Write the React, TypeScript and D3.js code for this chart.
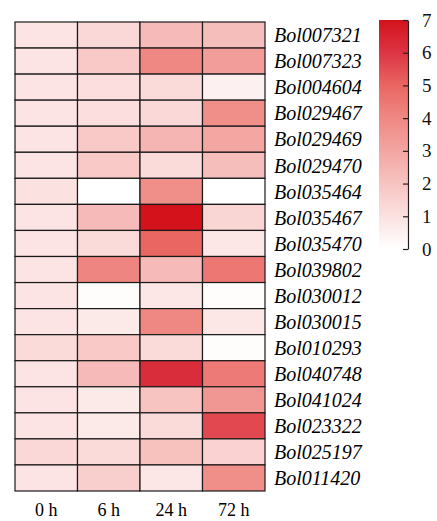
import React, { useEffect, useRef } from 'react'
import * as d3 from 'd3'

// genes (rows, top to bottom)
const genes = [
  'Bol007321', 'Bol007323', 'Bol004604', 'Bol029467', 'Bol029469', 'Bol029470',
  'Bol035464', 'Bol035467', 'Bol035470', 'Bol039802', 'Bol030012', 'Bol030015',
  'Bol010293', 'Bol040748', 'Bol041024', 'Bol023322', 'Bol025197', 'Bol011420',
]

const timepoints = ['0 h', '6 h', '24 h', '72 h']

// expression values per time point (same order as genes)
const v0h = [0.9, 0.9, 0.9, 0.9, 0.9, 0.9, 1.0, 0.9, 0.9, 0.9, 0.9, 0.9, 1.2, 0.9, 0.9, 0.9, 1.3, 0.9]
const v6h = [1.3, 1.8, 1.1, 1.1, 1.8, 1.8, 0.0, 2.3, 1.2, 4.1, 0.1, 0.7, 1.8, 2.3, 0.7, 0.7, 1.2, 1.6]
const v24h = [2.3, 4.0, 1.2, 1.3, 2.5, 1.2, 3.8, 7.0, 5.0, 2.3, 0.8, 4.0, 1.2, 6.2, 2.0, 1.2, 2.1, 0.8]
const v72h = [2.2, 3.3, 0.5, 3.8, 3.0, 2.2, 0.0, 1.4, 0.8, 4.5, 0.1, 0.8, 0.1, 4.4, 3.5, 5.6, 1.5, 3.8]

const legendTicks = [0, 1, 2, 3, 4, 5, 6, 7]

const serif = 'Liberation Serif, Times New Roman, DejaVu Serif, serif'

const App = () => {
  const svgRef = useRef(null)

  useEffect(() => {
    const svg = d3.select(svgRef.current)
    svg.selectAll('*').remove()

    const columns = [v0h, v6h, v24h, v72h]
    const cells = []
    genes.forEach((g, i) => {
      timepoints.forEach((t, j) => {
        cells.push({ gene: g, time: t, value: columns[j][i] })
      })
    })

    const x = d3.scaleBand().domain(timepoints).range([15, 265])
    const y = d3.scaleBand().domain(genes).range([22, 491])

    const color = d3
      .scaleLinear()
      .domain([0, 4, 5, 6, 7])
      .range(['#ffffff', '#ef8883', '#e96662', '#dc3444', '#d3121b'])
      .clamp(true)

    // cells
    svg
      .append('g')
      .selectAll('rect')
      .data(cells)
      .enter()
      .append('rect')
      .attr('x', (d) => x(d.time))
      .attr('y', (d) => y(d.gene))
      .attr('width', x.bandwidth())
      .attr('height', y.bandwidth())
      .attr('fill', (d) => color(d.value))
      .attr('stroke', '#1a1a1a')
      .attr('stroke-width', 1.2)

    // row labels
    svg
      .append('g')
      .selectAll('text')
      .data(genes)
      .enter()
      .append('text')
      .attr('x', 274)
      .attr('y', (d) => y(d) + y.bandwidth() / 2)
      .attr('dy', '0.36em')
      .attr('font-family', serif)
      .attr('font-style', 'italic')
      .attr('font-size', 20)
      .text((d) => d)

    // column labels
    svg
      .append('g')
      .selectAll('text')
      .data(timepoints)
      .enter()
      .append('text')
      .attr('x', (d) => x(d) + x.bandwidth() / 2)
      .attr('y', 516)
      .attr('text-anchor', 'middle')
      .attr('font-family', serif)
      .attr('font-size', 18)
      .text((d) => d)

    // color legend
    const ly = d3.scaleLinear().domain([0, 7]).range([249, 20])
    const defs = svg.append('defs')
    const grad = defs
      .append('linearGradient')
      .attr('id', 'legendGrad')
      .attr('x1', 0)
      .attr('y1', 1)
      .attr('x2', 0)
      .attr('y2', 0)
    d3.range(0, 7.01, 0.25).forEach((v) => {
      grad
        .append('stop')
        .attr('offset', v / 7)
        .attr('stop-color', color(v))
    })
    svg
      .append('rect')
      .attr('x', 379)
      .attr('y', ly(7))
      .attr('width', 29)
      .attr('height', ly(0) - ly(7))
      .attr('fill', 'url(#legendGrad)')

    const legendAxis = d3
      .axisRight(ly)
      .tickValues(legendTicks)
      .tickSizeInner(-5)
      .tickSizeOuter(0)
      .tickPadding(14)
      .tickFormat(d3.format('d'))
    const axisG = svg
      .append('g')
      .attr('transform', 'translate(408,0)')
      .call(legendAxis)
    axisG.select('.domain').attr('stroke', '#222').attr('stroke-width', 1.2)
    axisG.selectAll('line').attr('stroke', '#222').attr('stroke-width', 1.2)
    axisG
      .selectAll('text')
      .attr('font-family', serif)
      .attr('font-size', 19)
      .attr('fill', '#111')
  }, [])

  return (
    <svg
      ref={svgRef}
      width={437}
      height={521}
      style={{ position: 'absolute', left: 0, top: 0, background: '#fff' }}
    ></svg>
  )
}

export default App
